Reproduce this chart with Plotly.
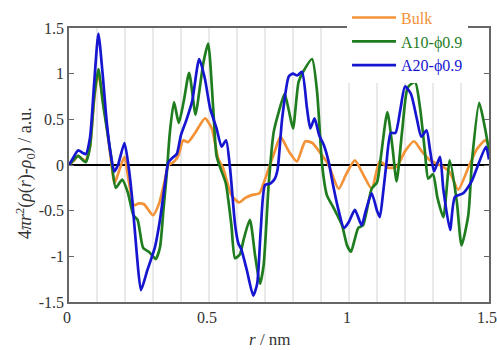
import plotly.graph_objects as go

# ---- data ----
series_names = ["Bulk", "A10-ϕ0.9", "A20-ϕ0.9"]

r_bulk = [0, 0.015, 0.033, 0.05, 0.06, 0.075, 0.09, 0.104, 0.12, 0.135, 0.15, 0.162, 0.175, 0.198, 0.212,
          0.232, 0.25, 0.268, 0.3, 0.322, 0.34, 0.355, 0.373, 0.39, 0.408, 0.425, 0.45, 0.486, 0.51, 0.533,
          0.55, 0.58, 0.607, 0.63, 0.652, 0.68, 0.695, 0.712, 0.735, 0.755, 0.785, 0.814, 0.844, 0.87,
          0.893, 0.927, 0.963, 0.99, 1.021, 1.05, 1.081, 1.11, 1.14, 1.17, 1.2, 1.232, 1.26, 1.29, 1.337,
          1.36, 1.39, 1.426, 1.456, 1.486, 1.5]
v_bulk = [0, 0.04, 0.1, 0.06, 0.05, 0.2, 0.72, 1.0, 0.75, 0.42, 0.05, -0.2, -0.1, 0.09, -0.15,
          -0.44, -0.42, -0.43, -0.55, -0.42, -0.2, 0.0, 0.03, 0.1, 0.27, 0.25, 0.35, 0.51, 0.4, 0.07,
          -0.03, -0.33, -0.41, -0.36, -0.33, -0.31, -0.2, -0.05, 0.15, 0.31, 0.15, 0.04, 0.26, 0.24,
          0.15, 0.0, -0.26, -0.1, 0.05, -0.1, -0.26, 0.04, -0.03, -0.02, 0.15, 0.26, 0.15, 0.05, -0.02,
          -0.08, -0.27, -0.03, 0.17, 0.27, 0.23]

r_a10 = [0, 0.015, 0.033, 0.05, 0.06, 0.075, 0.09, 0.105, 0.12, 0.135, 0.15, 0.167, 0.19, 0.21, 0.23,
         0.245, 0.265, 0.285, 0.3, 0.31, 0.325, 0.337, 0.349, 0.36, 0.375, 0.392, 0.41, 0.429, 0.452,
         0.465, 0.48, 0.497, 0.515, 0.527, 0.545, 0.56, 0.58, 0.593, 0.61, 0.625, 0.646, 0.665, 0.682,
         0.695, 0.713, 0.731, 0.749, 0.77, 0.785, 0.8, 0.82, 0.838, 0.868, 0.886, 0.904, 0.921, 0.945,
         0.975, 0.993, 1.007, 1.02, 1.033, 1.05, 1.081, 1.1, 1.113, 1.137, 1.155, 1.17, 1.19, 1.21,
         1.236, 1.254, 1.271, 1.283, 1.3, 1.316, 1.337, 1.36, 1.385, 1.402, 1.426, 1.44, 1.465, 1.486, 1.5]
v_a10 = [0, 0.05, 0.1, 0.05, 0.03, 0.2, 0.75, 1.05, 0.7, 0.4, 0.1, -0.25, -0.16, -0.3, -0.55,
         -0.6, -0.91, -0.95, -1.0, -1.03, -0.9, -0.5, -0.1, 0.35, 0.69, 0.46, 0.7, 1.01, 0.55,
         0.8, 1.12, 1.33, 0.62, 0.1, -0.07, -0.2, -0.66, -1.02, -0.98, -0.8, -0.6, -1.0, -1.3,
         -1.1, -0.22, 0.36, 0.58, 0.78, 0.6, 0.4, 0.91, 1.03, 1.16, 0.8, 0.0, -0.33, -0.47,
         -0.66, -0.88, -0.95, -0.82, -0.69, -0.66, -0.26, -0.19, 0.07, 0.58, 0.2, -0.18, 0.38, 0.85,
         0.91, 0.62, 0.15, -0.15, -0.1, -0.36, -0.57, 0.05, -0.4, -0.88, -0.55, 0.07, 0.68, 0.4, 0.15]

r_a20 = [0, 0.015, 0.033, 0.05, 0.06, 0.075, 0.09, 0.105, 0.12, 0.135, 0.15, 0.162, 0.175, 0.198, 0.212,
         0.225, 0.242, 0.257, 0.28, 0.307, 0.325, 0.343, 0.355, 0.37, 0.385, 0.4, 0.42, 0.44, 0.465,
         0.485, 0.504, 0.527, 0.545, 0.561, 0.575, 0.593, 0.605, 0.615, 0.635, 0.658, 0.672, 0.685,
         0.7, 0.72, 0.735, 0.745, 0.761, 0.785, 0.8, 0.815, 0.832, 0.85, 0.862, 0.877, 0.893, 0.91,
         0.927, 0.945, 0.963, 0.982, 1.0, 1.021, 1.045, 1.06, 1.081, 1.1, 1.11, 1.122, 1.133, 1.149,
         1.166, 1.183, 1.2, 1.221, 1.242, 1.258, 1.277, 1.29, 1.304, 1.325, 1.337, 1.361, 1.378, 1.408,
         1.438, 1.456, 1.489, 1.5]
v_a20 = [0, 0.08, 0.16, 0.13, 0.12, 0.3, 0.9, 1.44, 1.0, 0.46, 0.1, -0.07, 0.0, 0.24, 0.0,
         -0.35, -0.97, -1.37, -1.15, -0.9, -0.6, -0.2, 0.03, 0.08, 0.12, 0.33, 0.5, 0.7, 1.16,
         0.95, 0.62, 0.4, 0.2, 0.27, -0.03, -0.65, -0.86, -0.92, -1.15, -1.43, -1.3, -0.7,
         -0.22, -0.2, -0.15, -0.05, 0.5, 0.97, 1.0, 0.98, 1.02, 0.62, 0.4, 0.51, 0.33, 0.22,
         0.04, -0.25, -0.5, -0.69, -0.62, -0.49, -0.66, -0.5, -0.31, -0.5, -0.57, -0.3, 0.0, 0.35,
         0.35, 0.6, 0.86, 0.78, 0.51, 0.31, 0.38, 0.15, -0.07, 0.09, -0.27, -0.71, -0.35, -0.31,
         -0.18, -0.04, 0.2, 0.06]

x_tickvals = [0, 0.5, 1, 1.5]
x_ticktext = ["0", "0.5", "1", "1.5"]
y_tickvals = [-1.5, -1, -0.5, 0, 0.5, 1, 1.5]
y_ticktext = ["-1.5", "-1", "-0.5", "0", "0.5", "1", "1.5"]
grid_vals = [0.1, 0.2, 0.3, 0.4, 0.5, 0.6, 0.7, 0.8, 0.9, 1.0, 1.1, 1.2, 1.3, 1.4]

colors = ["#F39236", "#1F7D1F", "#1616D0"]
FONT = "Liberation Serif, DejaVu Serif, serif"

fig = go.Figure()
for name, rr, vv, c in [(series_names[0], r_bulk, v_bulk, colors[0]),
                        (series_names[1], r_a10, v_a10, colors[1]),
                        (series_names[2], r_a20, v_a20, colors[2])]:
    fig.add_trace(go.Scatter(
        x=rr, y=vv, mode="lines", line=dict(color=c, width=2.7, shape="spline", smoothing=0.6),
        name=f'<span style="color:{c}">{name}</span>'))

fig.update_layout(
    width=497, height=350,
    margin=dict(l=69, r=8, t=28, b=48, autoexpand=False),
    paper_bgcolor="white", plot_bgcolor="white",
    font=dict(family=FONT, size=16, color="#333"),
    showlegend=True,
    legend=dict(x=0.662, y=1.1, xanchor="left", yanchor="top",
                bgcolor="white", borderwidth=0, font=dict(family=FONT, size=16),
                tracegroupgap=0, itemwidth=44),
    xaxis=dict(range=[0, 1.5], tickvals=x_tickvals, ticktext=x_ticktext,
               showgrid=False, zeroline=False, showline=True, linecolor="#666", linewidth=1.5,
               mirror=True, ticks="", ticklabeloverflow="allow", ticklabelshift=-2,
               tickfont=dict(family=FONT, size=16, color="#333")),
    yaxis=dict(range=[-1.5, 1.5], tickvals=y_tickvals, ticktext=y_ticktext,
               showgrid=False, zeroline=True, zerolinecolor="black", zerolinewidth=2,
               showline=True, linecolor="#666", linewidth=1.5, mirror="ticks",
               ticks="inside", ticklen=5, tickcolor="#666", ticklabeloverflow="allow",
               tickfont=dict(family=FONT, size=16, color="#333")),
)

for g in grid_vals:
    fig.add_shape(type="line", xref="x", yref="paper", x0=g, x1=g, y0=0, y1=1,
                  line=dict(color="#d4d4d4", width=1), layer="below")

fig.add_annotation(
    text="4<i>πr</i><sup>2</sup>(<i>ρ</i>(<i>r</i>)-<i>ρ</i><sub>0</sub>) / a.u.",
    xref="paper", yref="paper", x=-0.105, y=0.47, xanchor="center", yanchor="middle",
    textangle=-90, showarrow=False, font=dict(family=FONT, size=18, color="#333"))
fig.add_annotation(
    text="<i>r</i> / nm", xref="paper", yref="paper", x=0.479, y=-0.137,
    xanchor="center", yanchor="middle", showarrow=False,
    font=dict(family=FONT, size=17, color="#333"))

fig.write_html("out.html")
